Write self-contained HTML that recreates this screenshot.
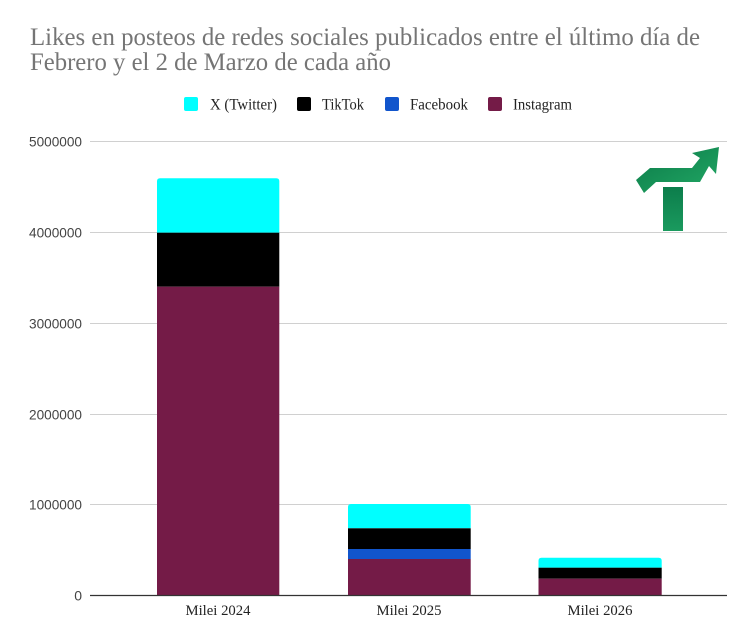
<!DOCTYPE html>
<html>
<head>
<meta charset="utf-8">
<style>
html,body{margin:0;padding:0;background:#fff;}
svg{display:block;}
</style>
</head>
<body>
<svg width="750" height="642" viewBox="0 0 750 642" xmlns="http://www.w3.org/2000/svg">
  <rect x="0" y="0" width="750" height="642" fill="#ffffff"/>
  <!-- Title -->
  <g font-family="'Liberation Serif', serif" fill="#757575" font-size="25">
    <text x="30" y="45" textLength="670" lengthAdjust="spacingAndGlyphs">Likes en posteos de redes sociales publicados entre el último día de</text>
    <text x="30" y="70" textLength="361" lengthAdjust="spacingAndGlyphs">Febrero y el 2 de Marzo de cada año</text>
  </g>
  <!-- Legend -->
  <g font-family="'Liberation Serif', serif" font-size="16" fill="#222">
    <rect x="184" y="97" width="14" height="14" rx="2" fill="#00ffff"/>
    <text x="210" y="109.5" textLength="67" lengthAdjust="spacingAndGlyphs">X (Twitter)</text>
    <rect x="297" y="97" width="14" height="14" rx="2" fill="#000000"/>
    <text x="322" y="109.5" textLength="42" lengthAdjust="spacingAndGlyphs">TikTok</text>
    <rect x="385" y="97" width="14" height="14" rx="2" fill="#1155cc"/>
    <text x="410" y="109.5" textLength="58" lengthAdjust="spacingAndGlyphs">Facebook</text>
    <rect x="488" y="97" width="14" height="14" rx="2" fill="#741b47"/>
    <text x="513" y="109.5" textLength="59" lengthAdjust="spacingAndGlyphs">Instagram</text>
  </g>
  <!-- Gridlines -->
  <g stroke="#d0d0d0" stroke-width="1">
    <line x1="90" y1="141.5" x2="727" y2="141.5"/>
    <line x1="90" y1="232.5" x2="727" y2="232.5"/>
    <line x1="90" y1="323.5" x2="727" y2="323.5"/>
    <line x1="90" y1="414.5" x2="727" y2="414.5"/>
    <line x1="90" y1="504.5" x2="727" y2="504.5"/>
  </g>
  <!-- Y tick labels -->
  <g font-family="'Liberation Sans', sans-serif" font-size="14" fill="#444" text-anchor="end">
    <text x="82" y="146.5" textLength="53" lengthAdjust="spacingAndGlyphs">5000000</text>
    <text x="82" y="237.5" textLength="53" lengthAdjust="spacingAndGlyphs">4000000</text>
    <text x="82" y="328.5" textLength="53" lengthAdjust="spacingAndGlyphs">3000000</text>
    <text x="82" y="419.5" textLength="53" lengthAdjust="spacingAndGlyphs">2000000</text>
    <text x="82" y="509.5" textLength="53" lengthAdjust="spacingAndGlyphs">1000000</text>
    <text x="82" y="600.5">0</text>
  </g>
  <!-- Bar 1 -->
  <path d="M157,232.7 L157,181.3 Q157,178.3 160,178.3 L276.3,178.3 Q279.3,178.3 279.3,181.3 L279.3,232.7 Z" fill="#00ffff"/>
  <rect x="157" y="232.7" width="122.3" height="54" fill="#000000"/>
  <rect x="157" y="286.7" width="122.3" height="308.8" fill="#741b47"/>
  <!-- Bar 2 -->
  <path d="M348,528.3 L348,507 Q348,504 351,504 L467.7,504 Q470.7,504 470.7,507 L470.7,528.3 Z" fill="#00ffff"/>
  <rect x="348" y="528.3" width="122.7" height="20.7" fill="#000000"/>
  <rect x="348" y="549" width="122.7" height="10" fill="#1155cc"/>
  <rect x="348" y="559" width="122.7" height="36.5" fill="#741b47"/>
  <!-- Bar 3 -->
  <path d="M538.5,567.7 L538.5,560.7 Q538.5,557.7 541.5,557.7 L658.7,557.7 Q661.7,557.7 661.7,560.7 L661.7,567.7 Z" fill="#00ffff"/>
  <rect x="538.5" y="567.7" width="123.2" height="11" fill="#000000"/>
  <rect x="538.5" y="578.7" width="123.2" height="16.8" fill="#741b47"/>
  <!-- Axis -->
  <line x1="90" y1="595.5" x2="727" y2="595.5" stroke="#333" stroke-width="1.2"/>
  <!-- X labels -->
  <g font-family="'Liberation Serif', serif" font-size="15" fill="#222" text-anchor="middle">
    <text x="218" y="615" textLength="65" lengthAdjust="spacingAndGlyphs">Milei 2024</text>
    <text x="409" y="615" textLength="65" lengthAdjust="spacingAndGlyphs">Milei 2025</text>
    <text x="600" y="615" textLength="65" lengthAdjust="spacingAndGlyphs">Milei 2026</text>
  </g>
  <!-- Logo -->
  <defs>
    <linearGradient id="g1" x1="0" y1="0" x2="1" y2="1">
      <stop offset="0" stop-color="#0b7a48"/>
      <stop offset="1" stop-color="#22a865"/>
    </linearGradient>
    <linearGradient id="g2" x1="0" y1="0" x2="0" y2="1">
      <stop offset="0" stop-color="#0c7d4b"/>
      <stop offset="1" stop-color="#1a9a5e"/>
    </linearGradient>
  </defs>
  <rect x="663" y="187" width="20" height="44" fill="url(#g2)"/>
  <polygon points="636,180 650,168 692,168 700,158 692,153 719,147 716,174 709,166 700,182 656,182 644,193" fill="url(#g1)"/>
</svg>
</body>
</html>
